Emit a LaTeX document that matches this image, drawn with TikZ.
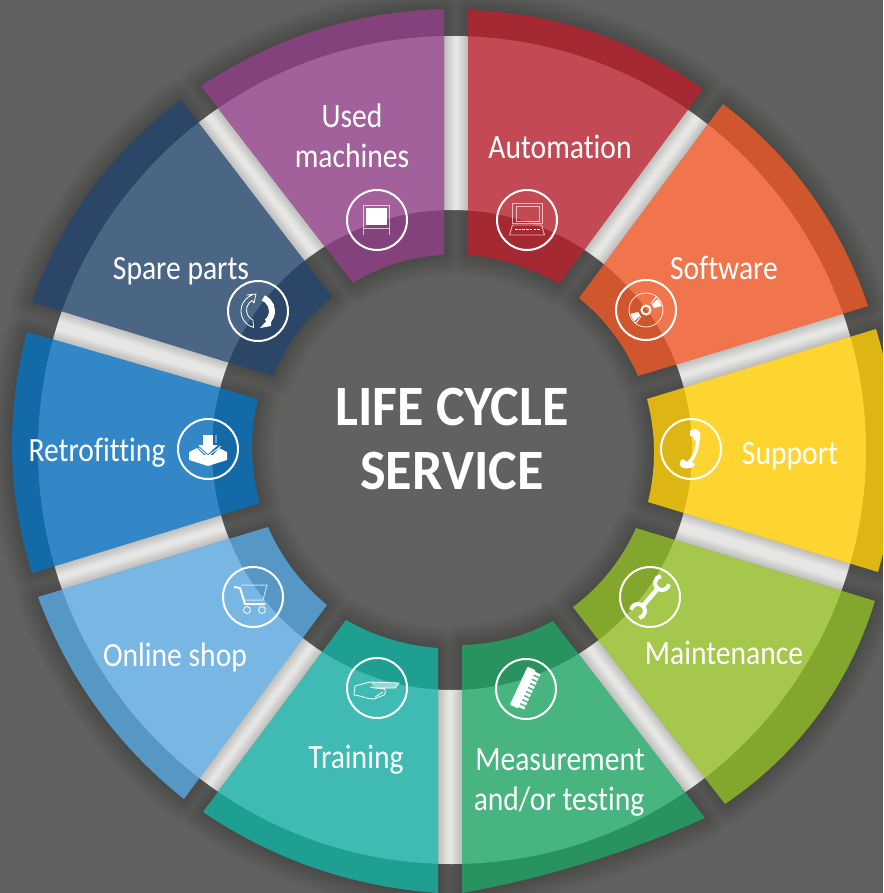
\documentclass[tikz,border=0pt]{standalone}
\usepackage{fontspec}
\setmainfont[FakeStretch=0.87,Ligatures=CommonOff]{Carlito}
\newfontfamily\titlefont[FakeStretch=0.95,Ligatures=CommonOff]{Carlito}
\definecolor{bgc}{HTML}{616160}
\definecolor{ringc}{HTML}{E6E6E5}
\definecolor{dUsed}{HTML}{84427D}\definecolor{lUsed}{HTML}{A3619B}
\definecolor{dAuto}{HTML}{A42933}\definecolor{lAuto}{HTML}{C34A55}
\definecolor{dSoft}{HTML}{CF562D}\definecolor{lSoft}{HTML}{F0754D}
\definecolor{dSupp}{HTML}{DDB614}\definecolor{lSupp}{HTML}{FED530}
\definecolor{dMain}{HTML}{83A62D}\definecolor{lMain}{HTML}{A4C74C}
\definecolor{dMeas}{HTML}{28935E}\definecolor{lMeas}{HTML}{48B47F}
\definecolor{dTrai}{HTML}{1F9F92}\definecolor{lTrai}{HTML}{3FBBB3}
\definecolor{dOnli}{HTML}{5797C5}\definecolor{lOnli}{HTML}{78B6E3}
\definecolor{dRetr}{HTML}{136AA7}\definecolor{lRetr}{HTML}{3387C6}
\definecolor{dSpar}{HTML}{2C4667}\definecolor{lSpar}{HTML}{4B6684}
\tikzset{
  lbl/.style={text=white,font=\fontsize{34}{34}\selectfont,anchor=base,inner sep=0pt},
  ttl/.style={text=white,font=\titlefont\bfseries\fontsize{57}{57}\selectfont,anchor=base,inner sep=0pt},
  badge/.style={draw=white,line width=2pt,circle,minimum size=60pt,inner sep=0pt},
  thin/.style={draw=white,line width=0.8pt},
  faint/.style={draw=white,draw opacity=0.65,line width=0.9pt}
}
% name / outer1 x,y / outer2 x,y / inner2 x,y / inner1 x,y / outer mid radius / inner mid radius
\def\seglist{Used/201/86/444/9/444/255/353/283/441/195,
Auto/468/10/703/89/559/284/468/255/441/196,
Soft/723/104/868/306/638/376/579/298/441/199,
Supp/876/329/878/572/648/502/647/399/443/202,
Main/875/601/725/804/573/607/636/528/452/199,
Meas/705/818/462/893/462/645/553/621/434/197,
Trai/438/893/203/812/346/620/438/648/440/199,
Onli/184/799/38/597/268/527/327/605/439/199,
Retr/32/573/27/332/258/399/260/503/440/200,
Spar/32/302/181/100/332/297/273/376/445/194}
% cubic through two end points and the point at radius r on the bisecting ray
\newcommand{\curveto}[5]{% x1,y1,x2,y2,r -> controls; result in \cAx \cAy \cBx \cBy
  \pgfmathsetmacro\tA{atan2(#2-450,#1-452)}%
  \pgfmathsetmacro\tB{atan2(#4-450,#3-452)}%
  \pgfmathsetmacro\tD{mod(\tB-\tA+720+180,360)-180}%
  \pgfmathsetmacro\tM{\tA+\tD/2}%
  \pgfmathsetmacro\qx{2*(452+#5*cos(\tM))-(#1+#3)/2}%
  \pgfmathsetmacro\qy{2*(450+#5*sin(\tM))-(#2+#4)/2}%
  \pgfmathsetmacro\cAx{#1+2/3*(\qx-#1)}%
  \pgfmathsetmacro\cAy{#2+2/3*(\qy-#2)}%
  \pgfmathsetmacro\cBx{#3+2/3*(\qx-#3)}%
  \pgfmathsetmacro\cBy{#4+2/3*(\qy-#4)}%
}
\newcommand{\mkseg}{%
  \curveto{\pa}{\pb}{\pc}{\pd}{\ro}%
  \xdef\oc{(\cAx,\cAy) and (\cBx,\cBy)}%
  \curveto{\pe}{\pf}{\pg}{\ph}{\ri}%
  \xdef\ic{(\cAx,\cAy) and (\cBx,\cBy)}%
  \xdef\segp{(\pa,\pb) .. controls \oc\space .. (\pc,\pd) -- (\pe,\pf) .. controls \ic\space .. (\pg,\ph) -- cycle}%
}
\begin{document}
\begin{tikzpicture}[x=1pt,y=1pt,yscale=-1]
\useasboundingbox (0,0) rectangle (883,893);
\clip (0,0) rectangle (883,893);
\fill[bgc] (0,0) rectangle (883,893);
\gdef\allsegs{}
\foreach \n/\pa/\pb/\pc/\pd/\pe/\pf/\pg/\ph/\ro/\ri in \seglist {
  \mkseg
  \xdef\allsegs{\allsegs\space\segp}
}
% soft shadow on the dark ground
\foreach \w in {4,8,...,44} {
  \draw[black,opacity=0.018,line width=\w pt,line join=round] \allsegs;
}
\fill[ringc,even odd rule] (452,450) circle (414) (452,450) circle (240);
% narrow shadow on the light ring
\begin{scope}[even odd rule]
  \clip (452,450) circle (414) (452,450) circle (240);
  \pgfsetnonzerorule
  \foreach \w in {2,4,...,20} {
    \draw[black,opacity=0.014,line width=\w pt,line join=round] \allsegs;
  }
\end{scope}
\foreach \n/\pa/\pb/\pc/\pd/\pe/\pf/\pg/\ph/\ro/\ri in \seglist {
  \mkseg
  \fill[d\n] \segp;
  \begin{scope}
    \clip \segp;
    \fill[l\n,even odd rule] (452,450) circle (414) (452,450) circle (240);
  \end{scope}
}
% labels
\node[lbl] (tUsed) at (352,128) {Used};
\node[lbl] (tMach) at (352,168) {machines};
\node[lbl] (tAuto) at (560,159) {Automation};
\node[lbl] (tSoft) at (724,279) {Software};
\node[lbl] (tSupp) at (790,464) {Support};
\node[lbl] (tMain) at (724,664) {Maintenance};
\node[lbl] (tMeas) at (560,770) {Measurement};
\node[lbl] (tTest) at (559,810) {and/or testing};
\node[lbl] (tTrai) at (356,768) {Training};
\node[lbl] (tOnli) at (175,666) {Online shop};
\node[lbl] (tRetr) at (97,461) {Retrofitting};
\node[lbl] (tSpar) at (181,279) {Spare parts};
\node[ttl] (tLife) at (452,425) {LIFE CYCLE};
\node[ttl] (tServ) at (452,489) {SERVICE};
% badges
\node[badge] (iUsed) at (377,220) {};
\node[badge] (iAuto) at (527,220) {};
\node[badge] (iSoft) at (646,310) {};
\node[badge] (iSupp) at (691,449) {};
\node[badge] (iMain) at (650,597) {};
\node[badge] (iMeas) at (526,689) {};
\node[badge] (iTrai) at (377,688) {};
\node[badge] (iOnli) at (253,597) {};
\node[badge] (iRetr) at (208,449) {};
\node[badge] (iSpar) at (258,311) {};
% easel
\begin{scope}[shift={(iUsed.center)}]
  \draw[faint] (-14,15) -- (-14,-15) -- (12.5,-15) -- (12.5,15) (-14,8) -- (12.5,8);
  \fill[white] (-11,-12) rectangle (9.5,5);
\end{scope}
% laptop
\begin{scope}[shift={(iAuto.center)}]
  \draw[faint] (-14.5,3) -- (-14.5,-17) -- (15.5,-17) -- (15.5,3) -- cycle;
  \draw[faint] (-11,1) -- (-11,-14) -- (12,-14) -- (12,1) -- cycle;
  \draw[faint] (-14.5,5) -- (14.5,5) -- (17.5,15) -- (-17.5,15) -- cycle;
  \draw[white,line width=1pt,dash pattern=on 2.5pt off 1.2pt] (-12,10) -- (13,10);
\end{scope}
% disc
\begin{scope}[shift={(iSoft.center)}]
  \draw[thin,line width=0.7pt] (0,0) circle (17);
  \draw[white,line width=2pt] (0,0) circle (4.5);
  \fill[white] (-44:8) -- (-44:16) arc[start angle=-44,end angle=-14,radius=16pt] -- (-14:8) arc[start angle=-14,end angle=-44,radius=8pt] -- cycle;
  \fill[white] (136:8) -- (136:16) arc[start angle=136,end angle=166,radius=16pt] -- (166:8) arc[start angle=166,end angle=136,radius=8pt] -- cycle;
  \draw[white,line width=0.9pt] (-52:8) -- (-52:17) (128:8) -- (128:17);
\end{scope}
% phone
\begin{scope}[shift={(iSupp.center)}]
  \draw[white,line width=3.5pt] (7,-13) .. controls (7,0) and (3,10) .. (-4,15);
  \fill[white] (-1,-18) .. controls (2,-21) and (7,-21) .. (9,-16) .. controls (10,-12) and (9,-9) .. (8,-7) -- (3,-9) .. controls (4,-11) and (2,-13) .. (-1,-13) -- cycle;
  \fill[white] (-9,10) .. controls (-12,13) and (-12,18) .. (-8,19) .. controls (-3,20) and (2,19) .. (4,16) -- (-1,11) .. controls (-4,14) and (-5,14) .. (-5,12) -- cycle;
\end{scope}
% wrench
\begin{scope}[shift={(iMain.center)}]
  \draw[white,line width=4.5pt] (-8,10) -- (9,-10);
  \draw[white,line width=4pt] (12,-14) ++(10:7) arc[start angle=10,end angle=260,radius=7pt];
  \draw[white,line width=4pt] (-12,14) ++(190:7) arc[start angle=190,end angle=440,radius=7pt];
\end{scope}
% ruler
\begin{scope}[shift={(iMeas.center)},rotate=-65]
  \fill[white,rounded corners=1pt] (-21,-8) rectangle (21,1);
  \foreach \k in {-18,-13.5,...,18} {\fill[white] (\k-1.4,0) rectangle (\k+1.4,7);}
\end{scope}
% hand
\begin{scope}[shift={(iTrai.center)}]
  \fill[white,opacity=0.45] (-7,-6) -- (22,-5) -- (18,0) -- (-2,0) -- cycle;
  \draw[thin,line join=round] (-22,-2) -- (-7,-6) -- (22,-5) -- (18,0) -- (-2,0) -- (8,1) .. controls (9,3) and (8,6) .. (7,7) -- (-3,11) .. controls (-9,11) and (-13,9) .. (-17,8) -- (-23,7) -- cycle;
  \draw[thin] (-2,9) -- (6,4) (-7,-1) -- (-2,0);
\end{scope}
% cart
\begin{scope}[shift={(iOnli.center)}]
  \draw[white,line width=2pt,line join=round] (-19,-10) -- (-13,-9) -- (-8,7) -- (12,7);
  \draw[faint,line width=1pt] (-12,-12) -- (14,-12) -- (10,3) -- (-8,3);
  \draw[thin] (-6,13) circle (3.5) (9,13) circle (3.5);
\end{scope}
% inbox
\begin{scope}[shift={(iRetr.center)}]
  \fill[white] (-5,-14) rectangle (5,-4);
  \fill[white] (-10,-4) -- (10,-4) -- (0,5) -- cycle;
  \draw[thin] (8,-14) -- (8,-6) (-9,-1) -- (0,7) -- (13,-3);
  \fill[white] (-19,3) -- (-11,-1) -- (-4,6) -- (5,6) -- (11,-1) -- (19,3) -- (19,11) -- (0,17) -- (-19,11) -- cycle;
\end{scope}
% arrows
\begin{scope}[shift={(iSpar.center)}]
  \draw[white,line width=6pt] (-68:14) arc[start angle=-68,end angle=50,radius=14pt];
  \fill[white] (2,17) -- (13,15) -- (13,5) -- cycle;
  \draw[thin,line width=0.8pt,line join=round] (105:17) arc[start angle=105,end angle=250,radius=17pt] -- (-11,-16) -- (-2,-17) -- (-4,-8) -- (-6,-10.5) arc[start angle=240,end angle=115,radius=11pt] -- cycle;
\end{scope}
\end{tikzpicture}
\end{document}
